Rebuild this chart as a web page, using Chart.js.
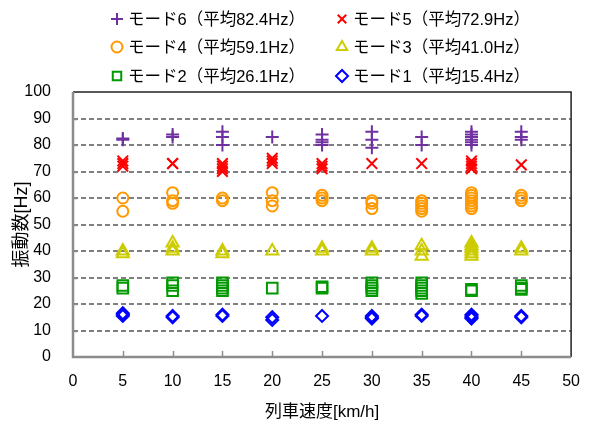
<!DOCTYPE html>
<html>
<head>
<meta charset="utf-8">
<script src="https://cdn.jsdelivr.net/npm/chart.js@4/dist/chart.umd.min.js"></script>
<style>
html,body{margin:0;padding:0;background:#fff;}
#wrap{width:595px;height:432px;}
</style>
</head>
<body>
<div id="wrap"><canvas id="c" width="595" height="432"></canvas></div>
<script>
// ---- data ----
const speeds = [5, 10, 15, 20, 25, 30, 35, 40, 45];
const mode6 = [[82.5,82],[84,83],[85,83,80],[83],[84,82,81,80],[85,82,79],[83,80],[85,84,83,82,81,80],[85,83,82]];
const mode5 = [[74,73,72],[73,73],[73,72,71,70],[75,74,73],[73,72,71],[73],[73],[74,73,72,71],[72.5]];
const mode4 = [[60,55],[62,59,58],[60,59],[62,59,57],[61,60,59],[59,58,56],[59,58,57,56,55],[62,61,60,59,58,57,56],[61,60,59]];
const mode3 = [[40,39],[43,41,40],[40,39],[40],[41,40],[41,40],[42,40,38],[43,42,41,40,39,38],[41,40]];
const mode2 = [[27,26],[28,27,25],[28,27,26,25],[26],[26,26.5],[28,27,26,25],[28,27,26,25,24],[25.5,25],[27,26,25.5]];
const mode1 = [[16.5,16,15.5],[15.5,15],[16,15.5],[15,14],[15.5],[15.5,15,14.5],[16,15.5],[16,15.5,15,14.5],[15.5,15]];
const seriesLabels = ['モード6（平均82.4Hz）','モード5（平均72.9Hz）','モード4（平均59.1Hz）','モード3（平均41.0Hz）','モード2（平均26.1Hz）','モード1（平均15.4Hz）'];
const xTitle = '列車速度[km/h]';
const yTitle = '振動数[Hz]';

const FONT = "'Liberation Sans','Noto Sans CJK JP',sans-serif";

function pts(arr){
  const out = [];
  arr.forEach((vals, i) => vals.forEach(v => out.push({x: speeds[i], y: v})));
  return out;
}

const styles = [
  {c:'#7030A0', s:'cross', r:6.5},
  {c:'#FF0000', s:'crossRot', r:7.5},
  {c:'#FF9900', s:'circle', r:5.5},
  {c:'#CCCC00', s:'triangle', r:7},
  {c:'#009900', s:'rect', r:7.5},
  {c:'#0000FF', s:'rectRot', r:6}
];
const allSeries = [mode6, mode5, mode4, mode3, mode2, mode1];

const datasets = allSeries.map((s, i) => ({
  label: seriesLabels[i],
  data: pts(s),
  pointStyle: styles[i].s,
  pointRadius: styles[i].r,
  pointHoverRadius: styles[i].r,
  pointBorderColor: styles[i].c,
  pointBackgroundColor: 'rgba(0,0,0,0)',
  pointBorderWidth: 2,
  showLine: false
}));

function drawMarker(ctx, style, r, x, y, color){
  ctx.save();
  ctx.strokeStyle = color; ctx.lineWidth = 2;
  ctx.fillStyle = 'rgba(0,0,0,0)';
  if (Chart.helpers && Chart.helpers.drawPoint) {
    Chart.helpers.drawPoint(ctx, {pointStyle: style, radius: r, rotation: 0, borderWidth: 2}, x, y);
  }
  ctx.restore();
}

const framePlugin = {
  id: 'frame',
  afterDraw(chart){
    const ctx = chart.ctx, a = chart.chartArea;
    const xs = chart.scales.x, ys = chart.scales.y;
    ctx.save();
    // inward ticks
    ctx.strokeStyle = '#8c8c8c'; ctx.lineWidth = 1.5;
    for (let v = 5; v < 50; v += 5){
      const px = Math.round(xs.getPixelForValue(v)) + 0.5;
      ctx.beginPath(); ctx.moveTo(px, a.bottom); ctx.lineTo(px, a.bottom - 6); ctx.stroke();
    }
    for (let v = 10; v < 100; v += 10){
      const py = Math.round(ys.getPixelForValue(v)) + 0.5;
      ctx.beginPath(); ctx.moveTo(a.left, py); ctx.lineTo(a.left + 4, py); ctx.stroke();
    }
    // top/right border
    ctx.strokeStyle = '#222'; ctx.lineWidth = 1.5;
    ctx.beginPath(); ctx.moveTo(a.left, a.top); ctx.lineTo(a.right, a.top); ctx.lineTo(a.right, a.bottom); ctx.stroke();
    // left/bottom axes
    ctx.strokeStyle = '#8c8c8c'; ctx.lineWidth = 2.5;
    ctx.beginPath(); ctx.moveTo(a.left, a.top); ctx.lineTo(a.left, a.bottom); ctx.lineTo(a.right, a.bottom); ctx.stroke();
    // legend
    const colX = [117, 342], rowY = [19, 47, 76];
    chart.data.datasets.forEach((ds, i) => {
      const x = colX[i % 2], y = rowY[Math.floor(i / 2)];
      drawMarker(ctx, styles[i].s, Math.min(styles[i].r, 6), x, y, styles[i].c);
      ctx.font = '16.5px ' + FONT;
      ctx.fillStyle = '#000';
      ctx.textBaseline = 'middle';
      ctx.textAlign = 'left';
      ctx.fillText(ds.label, x + 11, y + 1);
    });
    ctx.restore();
  }
};

new Chart(document.getElementById('c'), {
  type: 'scatter',
  data: { datasets },
  plugins: [framePlugin],
  options: {
    responsive: false,
    animation: false,
    layout: { padding: { top: 92, right: 12, left: 0, bottom: 0 } },
    plugins: { legend: { display: false }, tooltip: { enabled: false } },
    scales: {
      x: {
        type: 'linear', min: 0, max: 50,
        afterFit(scale){ scale.height = 75; },
        ticks: { stepSize: 5, color: '#000', font: { family: FONT, size: 16 }, padding: 15 },
        grid: { display: false, drawTicks: false },
        border: { display: false },
        title: { display: true, text: xTitle, color: '#000', font: { family: FONT, size: 17 }, padding: { top: 0, bottom: 9 } }
      },
      y: {
        type: 'linear', min: 0, max: 100,
        afterFit(scale){ scale.width = 73; },
        ticks: { stepSize: 10, color: '#000', font: { family: FONT, size: 16 }, padding: 22 },
        grid: {
          drawTicks: false,
          color: (c) => (c.tick && (c.tick.value === 0 || c.tick.value === 100)) ? 'rgba(0,0,0,0)' : '#808080',
          lineWidth: 2
        },
        border: { display: false, dash: [5, 3] },
        title: { display: true, text: yTitle, color: '#000', font: { family: FONT, size: 18 }, padding: { top: 11, bottom: 0 } }
      }
    }
  }
});
</script>
</body>
</html>
